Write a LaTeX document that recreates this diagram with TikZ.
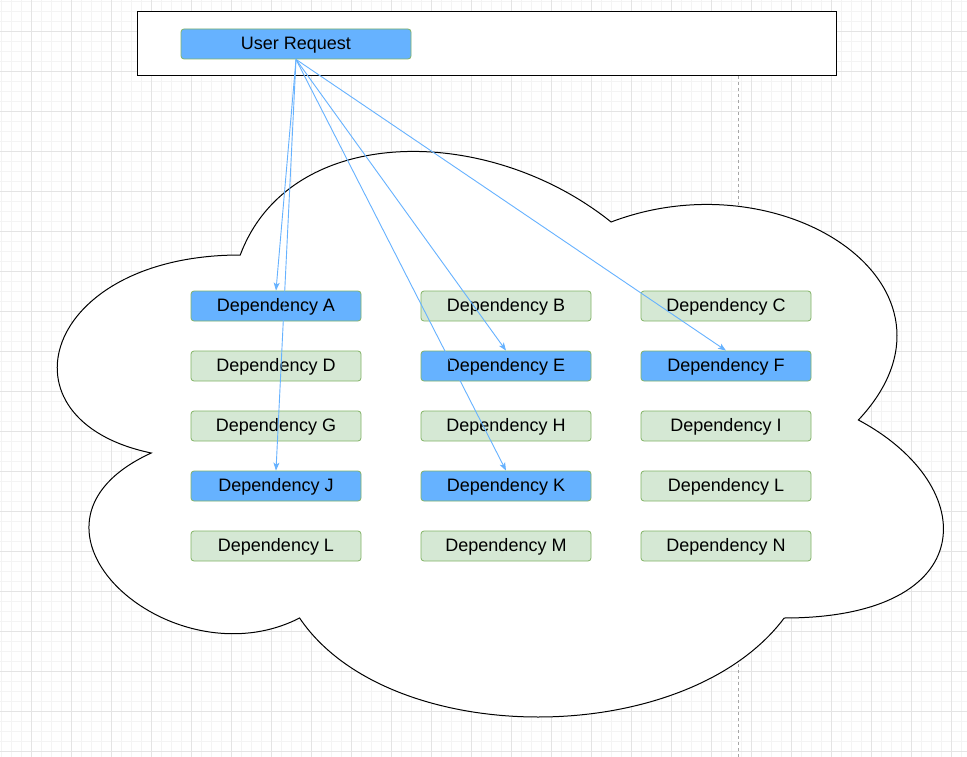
\documentclass[tikz,border=0pt]{standalone}
\usepackage{fontspec}
\setmainfont{Liberation Sans}
\usepackage{tikz}
\usetikzlibrary{arrows.meta}
\usepackage{xcolor}

\definecolor{reqblue}{HTML}{66B2FF}
\definecolor{depgreen}{HTML}{D5E8D4}
\definecolor{depborder}{HTML}{82B366}
\definecolor{gridmajor}{HTML}{E4E4E4}
\definecolor{gridminor}{HTML}{F4F4F4}

\tikzset{
  depbox/.style={draw=depborder, fill=depgreen, rounded corners=3pt, line width=0.8pt,
    minimum width=170pt, minimum height=30pt, inner sep=0pt,
    text height=15pt, text depth=3.6pt,
    font=\fontsize{18}{20}\selectfont},
  hotbox/.style={depbox, fill=reqblue},
  reqarrow/.style={draw=reqblue, line width=0.9pt, -{Stealth[length=8pt,width=6pt,inset=2pt]}}
}

\begin{document}
\begin{tikzpicture}[x=1pt, y=-1pt]
        \useasboundingbox (0,0) rectangle (967,757);
        \fill[white] (0,0) rectangle (967,757);
        \foreach \gx in {1,11,...,961} \draw[gridminor, line width=0.8pt] (\gx,0) -- (\gx,757);
        \foreach \gy in {1,11,...,751} \draw[gridminor, line width=0.8pt] (0,\gy) -- (967,\gy);
        \foreach \gx in {31,71,...,951} \draw[gridmajor, line width=0.9pt] (\gx,0) -- (\gx,757);
        \foreach \gy in {31,71,...,751} \draw[gridmajor, line width=0.9pt] (0,\gy) -- (967,\gy);
        \draw[black!35, line width=0.8pt, dash pattern=on 3pt off 3pt] (738,76) -- (738,757);

        \node[draw, fill=white, line width=1pt, minimum width=699pt, minimum height=64pt, inner sep=0pt] (frame) at (486.5,44) {};
        \node[hotbox, minimum width=230pt] (req) at (296,44) {User Request};

        % cloud
        \draw[fill=white, line width=1pt] (240.25,255)
          .. controls (42.45,255) and (-7,420) .. (151.24,453)
          .. controls (-7,525.6) and (171.02,684) .. (299.59,618)
          .. controls (388.6,750) and (685.3,750) .. (784.2,618)
          .. controls (982,618) and (982,486) .. (858.4,420)
          .. controls (982,288) and (784.2,156) .. (611.1,222)
          .. controls (487.5,123) and (289.7,123) .. (240.25,255) -- cycle;

        \node[hotbox] (depA) at (276,306) {Dependency A};
        \node[depbox] (depB) at (506,306) {Dependency B};
        \node[depbox] (depC) at (726,306) {Dependency C};
        \node[depbox] (depD) at (276,366) {Dependency D};
        \node[hotbox] (depE) at (506,366) {Dependency E};
        \node[hotbox] (depF) at (726,366) {Dependency F};
        \node[depbox] (depG) at (276,426) {Dependency G};
        \node[depbox] (depH) at (506,426) {Dependency H};
        \node[depbox] (depI) at (726,426) {Dependency I};
        \node[hotbox] (depJ) at (276,486) {Dependency J};
        \node[hotbox] (depK) at (506,486) {Dependency K};
        \node[depbox] (depL) at (726,486) {Dependency L};
        \node[depbox] (depLb) at (276,546) {Dependency L};
        \node[depbox] (depM) at (506,546) {Dependency M};
        \node[depbox] (depN) at (726,546) {Dependency N};

        \draw[reqarrow] (req.south) -- (depA.north);
        \draw[reqarrow] (req.south) -- (depJ.north);
        \draw[reqarrow] (req.south) -- (depE.north);
        \draw[reqarrow] (req.south) -- (depK.north);
        \draw[reqarrow] (req.south) -- (depF.north);
\end{tikzpicture}
\end{document}
